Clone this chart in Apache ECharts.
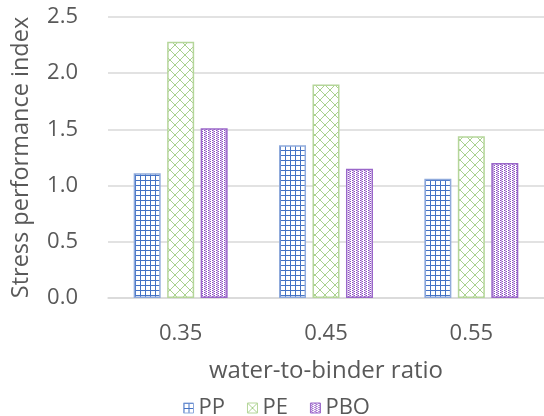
<!DOCTYPE html>
<html>
<head>
<meta charset="utf-8">
<script src="https://cdn.jsdelivr.net/npm/echarts@6/dist/echarts.min.js"></script>
<style>html,body{margin:0;padding:0;background:#fff}#c{width:544px;height:416px}</style>
</head>
<body>
<div id="c"></div>
<script>
const categories = ['0.35', '0.45', '0.55'];
const seriesNames = ['PP', 'PE', 'PBO'];
const ppValues = [1.11, 1.36, 1.06];
const peValues = [2.28, 1.90, 1.44];
const pboValues = [1.51, 1.15, 1.20];
const yTicks = [0, 0.5, 1.0, 1.5, 2.0, 2.5];

function makeCanvas(w, h, draw) {
  const c = document.createElement('canvas');
  c.width = w; c.height = h;
  const ctx = c.getContext('2d');
  ctx.fillStyle = '#ffffff';
  ctx.fillRect(0, 0, w, h);
  draw(ctx);
  return c;
}
const gridPat = makeCanvas(5, 5, ctx => {
  ctx.fillStyle = '#4472C4';
  ctx.fillRect(0, 0, 5, 1);
  ctx.fillRect(0, 0, 1, 5);
});
const crossPat = makeCanvas(10, 10, ctx => {
  ctx.strokeStyle = '#A9D18E';
  ctx.lineWidth = 1;
  ctx.beginPath();
  ctx.moveTo(0, 0); ctx.lineTo(10, 10);
  ctx.moveTo(10, 0); ctx.lineTo(0, 10);
  ctx.stroke();
});
const dotPat = makeCanvas(4, 4, ctx => {
  ctx.fillStyle = '#8A4FC0';
  ctx.fillRect(0, 0, 1, 1);
  ctx.fillRect(2, 1, 1, 1);
  ctx.fillRect(0, 2, 1, 1);
  ctx.fillRect(2, 3, 1, 1);
  ctx.fillStyle = '#C9A8E3';
  ctx.fillRect(1, 0, 1, 4);
});

const chart = echarts.init(document.getElementById('c'), null, {renderer: 'canvas'});
const font = '"Open Sans", sans-serif';
const txt = '#595959';
function bar(name, data, pat, border) {
  return {
    name, type: 'bar', data,
    barWidth: 27, barGap: '24%',
    itemStyle: { color: { image: pat, repeat: 'repeat' }, borderColor: border, borderWidth: 1.5 }
  };
}
chart.setOption({
  animation: false,
  grid: { left: 108, top: 17, width: 440, height: 281, containLabel: false },
  xAxis: {
    type: 'category', data: categories,
    axisTick: { show: false },
    axisLine: { lineStyle: { color: '#d9d9d9', width: 1.5 } },
    axisLabel: { color: txt, fontSize: 22, fontFamily: font, margin: 25 },
    name: 'water-to-binder ratio', nameLocation: 'middle', nameGap: 61,
    nameTextStyle: { color: txt, fontSize: 24, fontFamily: font }
  },
  yAxis: {
    type: 'value', min: 0, max: 2.5, interval: 0.5,
    axisLine: { show: false }, axisTick: { show: false },
    splitLine: { lineStyle: { color: '#d9d9d9', width: 1.5 } },
    axisLabel: { color: txt, fontSize: 22, fontFamily: font, margin: 30,
      formatter: v => (yTicks.includes(v) ? v.toFixed(1) : '') },
    name: 'Stress performance index', nameLocation: 'middle', nameGap: 75,
    nameTextStyle: { color: txt, fontSize: 23.5, fontFamily: font }
  },
  legend: {
    data: seriesNames, top: 392, left: 178,
    itemWidth: 10, itemHeight: 10, itemGap: 22, icon: 'rect',
    textStyle: { color: txt, fontSize: 22, fontFamily: font },
    itemStyle: { borderWidth: 1 }
  },
  series: [
    bar(seriesNames[0], ppValues, gridPat, '#8FAADC'),
    bar(seriesNames[1], peValues, crossPat, '#B5D69A'),
    bar(seriesNames[2], pboValues, dotPat, '#9A67C9')
  ]
});
</script>
</body>
</html>
